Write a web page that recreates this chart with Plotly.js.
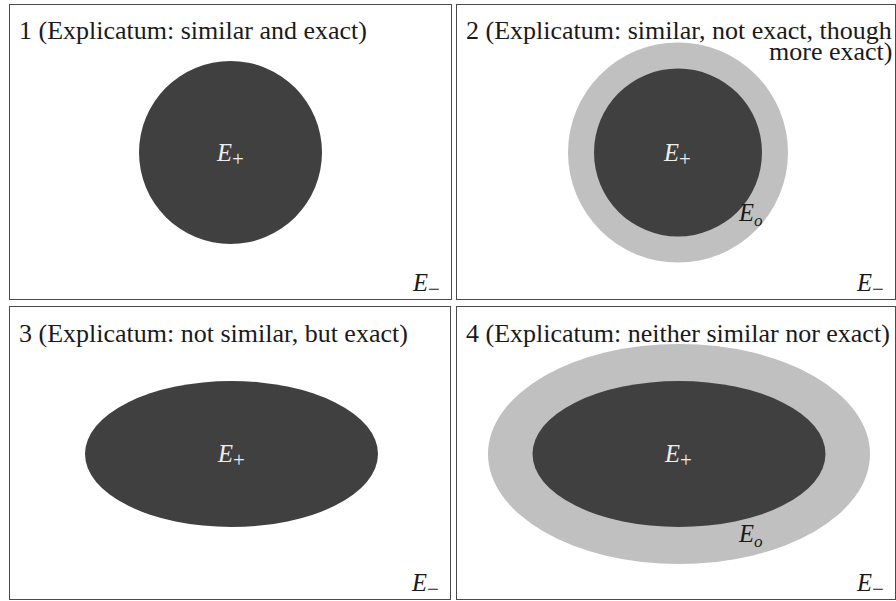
<!DOCTYPE html>
<html>
<head>
<meta charset="utf-8">
<script src="https://cdn.plot.ly/plotly-3.0.1.min.js"></script>
<style>html,body{margin:0;padding:0;background:#fff;}#chart{width:896px;height:601px;}</style>
</head>
<body>
<div id="chart"></div>
<script>
// ---- data ----
const panelIds = [1, 2, 3, 4];
const titleLines = [
  ["1 (Explicatum: similar and exact)"],
  ["2 (Explicatum: similar, not exact, though", "more exact)"],
  ["3 (Explicatum: not similar, but exact)"],
  ["4 (Explicatum: neither similar nor exact)"]
];
// E+ region (explicatum positive extension): semi-axes in panel units
const plusRx = [91.5, 84, 146.5, 146.5];
const plusRy = [91.5, 84, 73, 73];
// E_o region (borderline cases): semi-axes (0 = none)
const borderRx = [0, 110, 0, 191];
const borderRy = [0, 110, 0, 110];
// region centres, offset from panel centre
const centreX = [0, 2, 1.5, 3];
const centreY = [0.5, 0.5, 1, 1];
const plusLabel = "<i>E</i><sub><span style=\"font-size:21px\">+</span></sub>";
const minusLabel = "<i>E</i><sub><span style=\"font-size:21px\">\u2212</span></sub>";
const borderLabel = "<i>E</i><sub><i>o</i></sub>";

// ---- layout geometry (pixels of the 896x601 figure) ----
const W = 896, H = 601;
const boxes = [
  {x0: 10, x1: 451, y0: 5, y1: 299},
  {x0: 457, x1: 895, y0: 5, y1: 299},
  {x0: 10, x1: 450, y0: 307, y1: 599},
  {x0: 457, x1: 895, y0: 307, y1: 599}
];
const FONT = "Liberation Serif, Times New Roman, serif";
const DARK = "#404040", LIGHT = "#c0c0c0";
const TITLE_SIZE = 26, LABEL_SIZE = 24.5;

const layout = {
  width: W, height: H,
  margin: {l: 0, r: 0, t: 0, b: 0},
  paper_bgcolor: "#fff", plot_bgcolor: "#fff",
  showlegend: false,
  shapes: [], annotations: []
};
const traces = [];

panelIds.forEach((id, i) => {
  const b = boxes[i];
  const w = b.x1 - b.x0, h = b.y1 - b.y0;
  const xa = "xaxis" + (i === 0 ? "" : id + ""), ya = "yaxis" + (i === 0 ? "" : id + "");
  const xr = "x" + (i === 0 ? "" : id), yr = "y" + (i === 0 ? "" : id);
  const axCommon = {showline: true, mirror: true, linecolor: "#4a4a4a", linewidth: 1,
    showgrid: false, zeroline: false, showticklabels: false, ticks: "", fixedrange: true};
  layout[xa] = Object.assign({}, axCommon, {domain: [b.x0 / W, b.x1 / W], range: [-w / 2, w / 2], anchor: yr});
  layout[ya] = Object.assign({}, axCommon, {domain: [1 - b.y1 / H, 1 - b.y0 / H], range: [h / 2, -h / 2], anchor: xr});
  traces.push({type: "scatter", x: [0], y: [0], xaxis: xr, yaxis: yr, mode: "markers",
    marker: {opacity: 0}, hoverinfo: "skip"});

  const cx = centreX[i], cy = centreY[i];
  if (borderRx[i] > 0) {
    layout.shapes.push({type: "circle", xref: xr, yref: yr, layer: "below",
      x0: cx - borderRx[i], x1: cx + borderRx[i], y0: cy - borderRy[i], y1: cy + borderRy[i],
      fillcolor: LIGHT, line: {width: 0}});
  }
  layout.shapes.push({type: "circle", xref: xr, yref: yr, layer: "below",
    x0: cx - plusRx[i], x1: cx + plusRx[i], y0: cy - plusRy[i], y1: cy + plusRy[i],
    fillcolor: DARK, line: {width: 0}});

  // titles
  const lines = titleLines[i];
  if (lines.length === 1) {
    layout.annotations.push({xref: xr, yref: yr, x: -w / 2 + 7, y: -h / 2 + 26,
      xanchor: "left", yanchor: "middle", showarrow: false, text: lines[0],
      font: {family: FONT, size: TITLE_SIZE, color: "#1a1a1a"}});
  } else {
    lines.forEach((t, k) => {
      layout.annotations.push({xref: xr, yref: yr, x: w / 2 - 1, y: -h / 2 + 26 + k * 21,
        xanchor: "right", yanchor: "middle", showarrow: false, text: t,
        font: {family: FONT, size: TITLE_SIZE, color: "#1a1a1a"}});
    });
  }
  // E+ label
  layout.annotations.push({xref: xr, yref: yr, x: cx - 1, y: cy + 2, xanchor: "center", yanchor: "middle",
    showarrow: false, text: plusLabel, font: {family: FONT, size: LABEL_SIZE, color: "#eeeeee"}});
  // E- label
  layout.annotations.push({xref: xr, yref: yr, x: w / 2 - 9, y: h / 2 - 14, xanchor: "right", yanchor: "middle",
    showarrow: false, text: minusLabel, font: {family: FONT, size: LABEL_SIZE, color: "#1a1a1a"}});
});
// E_o labels (panels 2 and 4)
[[1, 72, 62], [3, 71, 81]].forEach(([i, dx, dy]) => {
  const xr = "x" + panelIds[i], yr = "y" + panelIds[i];
  layout.annotations.push({xref: xr, yref: yr, x: centreX[i] + dx, y: centreY[i] + dy,
    xanchor: "center", yanchor: "middle", showarrow: false, text: borderLabel,
    font: {family: FONT, size: LABEL_SIZE, color: "#1a1a1a"}});
});

Plotly.newPlot("chart", traces, layout, {displayModeBar: false, staticPlot: true});
</script>
</body>
</html>
